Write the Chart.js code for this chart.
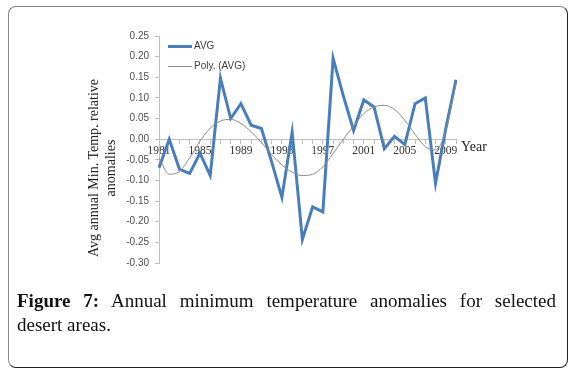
<!DOCTYPE html>
<html>
<head>
<meta charset="utf-8">
<script src="https://cdn.jsdelivr.net/npm/chart.js@4.4.0/dist/chart.umd.min.js"></script>
<style>
  html, body { margin: 0; padding: 0; background: #fff; }
  body { width: 578px; height: 383px; position: relative; overflow: hidden; }
  #frame { position: absolute; left: 8px; top: 6px; width: 558px; height: 360px;
    border: 1px solid #888; border-right-color: #222; border-bottom-color: #222; border-radius: 8px; }
  #wrap { position: absolute; left: 0; top: 0; width: 578px; height: 300px; }
  #ytitle { position: absolute; left: 1.5px; top: 151px; width: 200px; height: 34px;
    transform: rotate(-90deg); transform-origin: 50% 50%;
    font: 14px "Liberation Serif", "Times New Roman", serif; color: #222; text-align: center; line-height: 17px; }
  #year { position: absolute; left: 461px; top: 139px; font: 14px "Liberation Serif", serif; color: #222; }
  .cap { position: absolute; left: 17px; width: 539px; font: 19px "Liberation Serif", "Times New Roman", serif; color: #111; }
  #cap1 { top: 290px; text-align: justify; text-align-last: justify; }
  #cap2 { top: 314px; text-align: left; }
</style>
</head>
<body>
<div id="frame"></div>
<div id="wrap"><canvas id="c"></canvas></div>
<div id="ytitle">Avg annual Min. Temp. relative<br>anomalies</div>
<div id="year">Year</div>
<div class="cap" id="cap1"><b>Figure 7:</b> Annual minimum temperature anomalies for selected</div>
<div class="cap" id="cap2">desert areas.</div>
<script>
const years = [1981,1982,1983,1984,1985,1986,1987,1988,1989,1990,
               1991,1992,1993,1994,1995,1996,1997,1998,1999,2000,
               2001,2002,2003,2004,2005,2006,2007,2008,2009,2010];
const avgValues = [-0.069, 0.000, -0.073, -0.083, -0.034, -0.088, 0.148, 0.050, 0.086, 0.034,
                   0.026, -0.055, -0.141, 0.017, -0.243, -0.164, -0.176, 0.196, 0.105, 0.021,
                   0.095, 0.078, -0.023, 0.007, -0.013, 0.086, 0.100, -0.107, 0.025, 0.144];
const polyValues = [-0.045, -0.085, -0.078, -0.045, -0.005, 0.027, 0.044, 0.048, 0.038, 0.018,
                    -0.008, -0.038, -0.062, -0.080, -0.088, -0.085, -0.067, -0.035, 0.000, 0.032,
                    0.062, 0.078, 0.082, 0.072, 0.046, 0.012, -0.018, -0.026, 0.020, 0.135];
const yTickValues = [0.25,0.20,0.15,0.10,0.05,0.00,-0.05,-0.10,-0.15,-0.20,-0.25,-0.30];
const labelEvery = 4;
const legendLabels = ['AVG', 'Poly. (AVG)'];

const legendPlugin = {
  id: 'insideLegend',
  afterDatasetsDraw(chart) {
    const ctx = chart.ctx;
    const rows = [46.5, 66.5];
    ctx.save();
    chart.data.datasets.forEach((ds, i) => {
      ctx.strokeStyle = ds.borderColor;
      ctx.lineWidth = ds.borderWidth;
      ctx.beginPath();
      ctx.moveTo(168, rows[i]);
      ctx.lineTo(192, rows[i]);
      ctx.stroke();
      ctx.fillStyle = '#404040';
      ctx.font = '10px "Liberation Sans", Arial, sans-serif';
      ctx.textBaseline = 'middle';
      ctx.fillText(ds.label, 194, rows[i]);
    });
    ctx.restore();
  }
};

new Chart(document.getElementById('c'), {
  type: 'line',
  data: {
    labels: years.map(String),
    datasets: [
      { label: legendLabels[0], data: avgValues, borderColor: '#4a7ebb', borderWidth: 3,
        pointRadius: 0, tension: 0, fill: false, order: 2 },
      { label: legendLabels[1], data: polyValues, borderColor: '#8c8c8c', borderWidth: 1,
        pointRadius: 0, cubicInterpolationMode: 'monotone', fill: false, order: 1 }
    ]
  },
  options: {
    responsive: true,
    maintainAspectRatio: false,
    animation: false,
    devicePixelRatio: 1,
    layout: { padding: { left: 60, top: 36, right: 122, bottom: 37 } },
    plugins: { legend: { display: false }, tooltip: { enabled: false } },
    scales: {
      x: {
        type: 'category',
        position: { y: 0 },
        offset: false,
        border: { display: true, color: '#bfbfbf', width: 1 },
        grid: { display: true, drawOnChartArea: false, drawTicks: true, tickLength: 4, color: '#bfbfbf' },
        ticks: {
          autoSkip: false, maxRotation: 0, minRotation: 0, padding: 1,
          color: '#333',
          font: { family: '"Liberation Serif", "Times New Roman", serif', size: 11.5 },
          callback: function(v, i) { return (i % labelEvery === 0) ? years[i] : ''; }
        }
      },
      y: {
        min: -0.30, max: 0.25,
        afterFit: (scale) => { scale.width = 99; },
        afterBuildTicks: (scale) => { scale.ticks = yTickValues.map(v => ({ value: v })); },
        border: { display: true, color: '#bfbfbf', width: 1 },
        grid: { display: true, drawOnChartArea: false, drawTicks: true, tickLength: 4, color: '#bfbfbf' },
        ticks: {
          padding: 6, color: '#505050',
          font: { family: '"Liberation Sans", Arial, sans-serif', size: 10 },
          callback: (v) => (Math.abs(v) < 1e-9 ? 0 : v).toFixed(2)
        }
      }
    }
  },
  plugins: [legendPlugin]
});
</script>
</body>
</html>
